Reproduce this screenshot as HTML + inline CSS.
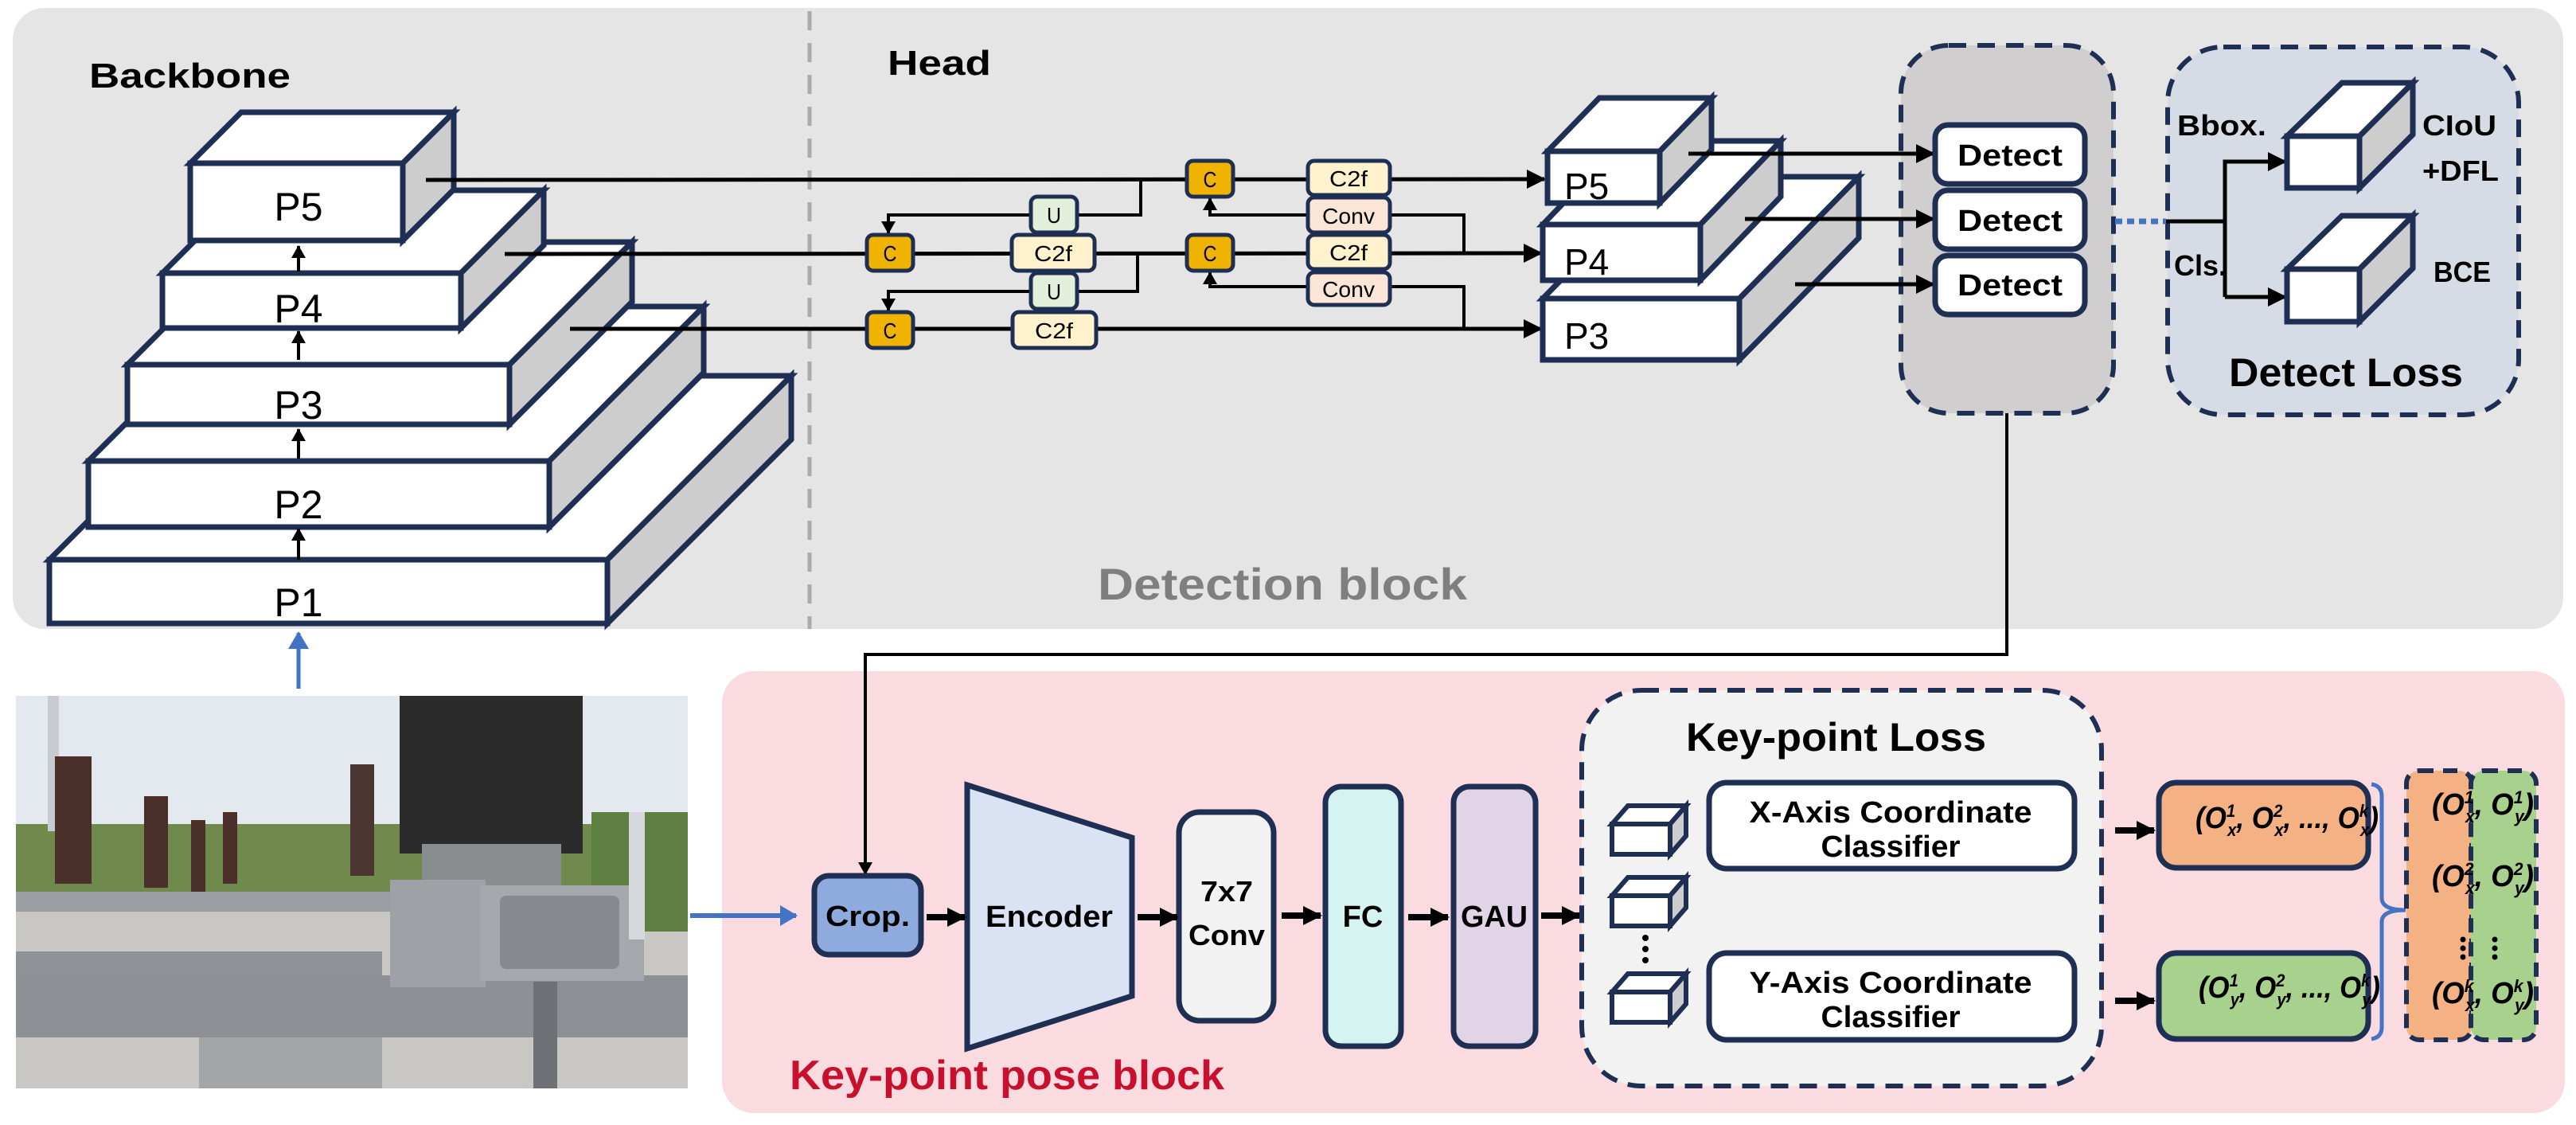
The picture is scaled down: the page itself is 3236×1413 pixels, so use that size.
<!DOCTYPE html>
<html><head><meta charset="utf-8"><style>
html,body{margin:0;padding:0;background:#fff}
svg{display:block}
text{font-family:"Liberation Sans",sans-serif}
</style></head><body>
<svg width="3236" height="1413" viewBox="0 0 3236 1413" xmlns="http://www.w3.org/2000/svg">
<defs>
<marker id="ah" markerUnits="userSpaceOnUse" markerWidth="24" markerHeight="24" refX="22" refY="12" orient="auto"><path d="M0,0 L24,12 L0,24 Z" fill="#000"/></marker>
<marker id="as" markerUnits="userSpaceOnUse" markerWidth="16" markerHeight="18" refX="15" refY="9" orient="auto"><path d="M0,0 L16,9 L0,18 Z" fill="#000"/></marker>
<marker id="ab" markerUnits="userSpaceOnUse" markerWidth="22" markerHeight="26" refX="20" refY="13" orient="auto"><path d="M0,0 L22,13 L0,26 Z" fill="#4472c4"/></marker>
</defs>

<rect x="16" y="10" width="3204" height="780" rx="40" fill="#e5e5e5"/>
<line x1="1017" y1="14" x2="1017" y2="790" stroke="#aeaaaa" stroke-width="5" stroke-dasharray="24 16"/>
<text x="112" y="110" font-size="44" font-weight="bold" textLength="253" lengthAdjust="spacingAndGlyphs">Backbone</text>
<text x="1115" y="94" font-size="44" font-weight="bold" textLength="130" lengthAdjust="spacingAndGlyphs">Head</text>
<text x="1379" y="753" font-size="56" font-weight="bold" fill="#7f7f7f" textLength="464" lengthAdjust="spacingAndGlyphs">Detection block</text>

<g stroke="#1f2f54" stroke-width="7" stroke-linejoin="miter">
<polygon points="62,703 293,472 994,472 763,703" fill="#fff"/>
<polygon points="763,703 994,472 994,552 763,783" fill="#cdcdcd"/>
<rect x="62" y="703" width="701" height="80" fill="#fff"/>
<polygon points="111,579 305,385 884,385 690,579" fill="#fff"/>
<polygon points="690,579 884,385 884,468 690,662" fill="#cdcdcd"/>
<rect x="111" y="579" width="579" height="83" fill="#fff"/>
<polygon points="160,458 314,304 794,304 640,458" fill="#fff"/>
<polygon points="640,458 794,304 794,379 640,533" fill="#cdcdcd"/>
<rect x="160" y="458" width="480" height="75" fill="#fff"/>
<polygon points="204,343 308,239 683,239 579,343" fill="#fff"/>
<polygon points="579,343 683,239 683,308 579,412" fill="#cdcdcd"/>
<rect x="204" y="343" width="375" height="69" fill="#fff"/>
<polygon points="239,205 303,141 570,141 506,205" fill="#fff"/>
<polygon points="506,205 570,141 570,238 506,302" fill="#cdcdcd"/>
<rect x="239" y="205" width="267" height="97" fill="#fff"/>
</g>
<g font-size="50" text-anchor="middle">
<text x="375" y="277">P5</text><text x="375" y="405">P4</text><text x="375" y="526">P3</text><text x="375" y="651">P2</text><text x="375" y="774">P1</text>
</g>
<g stroke="#000" stroke-width="4">
<line x1="375" y1="703" x2="375" y2="664" marker-end="url(#as)"/>
<line x1="375" y1="576" x2="375" y2="539" marker-end="url(#as)"/>
<line x1="375" y1="452" x2="375" y2="416" marker-end="url(#as)"/>
<line x1="375" y1="341" x2="375" y2="309" marker-end="url(#as)"/>
</g>
<line x1="375" y1="865" x2="375" y2="795" stroke="#4472c4" stroke-width="5" marker-end="url(#ab)"/>

<g stroke="#000" stroke-width="5" fill="none">
<line x1="535" y1="226" x2="1940" y2="225" marker-end="url(#ah)"/>
<line x1="634" y1="319" x2="1936" y2="318" marker-end="url(#ah)"/>
<line x1="716" y1="413" x2="1936" y2="413" marker-end="url(#ah)"/>
</g>
<g stroke="#000" stroke-width="4" fill="none">
<polyline points="1433,225 1433,270 1116,270 1116,293" marker-end="url(#as)"/>
<polyline points="1429,318 1429,366 1116,366 1116,390" marker-end="url(#as)"/>
<polyline points="1839,318 1839,270 1520,270 1520,249" marker-end="url(#as)"/>
<polyline points="1839,413 1839,360 1520,360 1520,342" marker-end="url(#as)"/>
</g>
<g stroke="#1f2f54" stroke-width="5">
<rect x="1491" y="202" width="58" height="45" rx="8" fill="#f0b400"/>
<rect x="1491" y="295" width="58" height="45" rx="8" fill="#f0b400"/>
<rect x="1089" y="295" width="58" height="45" rx="8" fill="#f0b400"/>
<rect x="1089" y="392" width="58" height="45" rx="8" fill="#f0b400"/>
<rect x="1643" y="202" width="103" height="43" rx="8" fill="#fff2cc"/>
<rect x="1643" y="248" width="103" height="44" rx="8" fill="#fbe5d6"/>
<rect x="1643" y="295" width="103" height="43" rx="8" fill="#fff2cc"/>
<rect x="1643" y="342" width="103" height="41" rx="8" fill="#fbe5d6"/>
<rect x="1271" y="295" width="104" height="45" rx="8" fill="#fff2cc"/>
<rect x="1272" y="392" width="105" height="45" rx="8" fill="#fff2cc"/>
<rect x="1295" y="247" width="58" height="45" rx="8" fill="#e2f0d9"/>
<rect x="1295" y="343" width="58" height="45" rx="8" fill="#e2f0d9"/>
</g>
<g font-size="28" text-anchor="middle">
<text x="1520" y="235" textLength="17" lengthAdjust="spacingAndGlyphs">C</text><text x="1520" y="328" textLength="17" lengthAdjust="spacingAndGlyphs">C</text><text x="1118" y="328" textLength="17" lengthAdjust="spacingAndGlyphs">C</text><text x="1118" y="425" textLength="17" lengthAdjust="spacingAndGlyphs">C</text>
<text x="1694" y="234" textLength="48" lengthAdjust="spacingAndGlyphs">C2f</text><text x="1694" y="281" textLength="66" lengthAdjust="spacingAndGlyphs">Conv</text><text x="1694" y="327" textLength="48" lengthAdjust="spacingAndGlyphs">C2f</text><text x="1694" y="373" textLength="66" lengthAdjust="spacingAndGlyphs">Conv</text>
<text x="1323" y="328" textLength="48" lengthAdjust="spacingAndGlyphs">C2f</text><text x="1324" y="425" textLength="48" lengthAdjust="spacingAndGlyphs">C2f</text>
<text x="1324" y="280" textLength="18" lengthAdjust="spacingAndGlyphs">U</text><text x="1324" y="376" textLength="18" lengthAdjust="spacingAndGlyphs">U</text>
</g>

<g stroke="#1f2f54" stroke-width="7">
<polygon points="1938,375 2088,222 2335,222 2185,375" fill="#fff"/>
<polygon points="2185,375 2335,222 2335,299 2185,452" fill="#cdcdcd"/>
<rect x="1938" y="375" width="247" height="77" fill="#fff"/>
<polygon points="1938,282 2039,177 2237,177 2136,282" fill="#fff"/>
<polygon points="2136,282 2237,177 2237,247 2136,352" fill="#cdcdcd"/>
<rect x="1938" y="282" width="198" height="70" fill="#fff"/>
<polygon points="1944,190 2009,123 2150,123 2085,190" fill="#fff"/>
<polygon points="2085,190 2150,123 2150,188 2085,255" fill="#cdcdcd"/>
<rect x="1944" y="190" width="141" height="65" fill="#fff"/>
</g>
<g font-size="46"><text x="1965" y="250">P5</text><text x="1965" y="345">P4</text><text x="1965" y="438">P3</text></g>

<rect x="2388" y="57" width="267" height="462" rx="60" fill="#d0cece" stroke="#1f2f54" stroke-width="6" stroke-dasharray="22 14"/>
<g stroke="#000" stroke-width="5">
<line x1="2121" y1="193" x2="2429" y2="193" marker-end="url(#ah)"/>
<line x1="2192" y1="275" x2="2429" y2="275" marker-end="url(#ah)"/>
<line x1="2255" y1="357" x2="2429" y2="357" marker-end="url(#ah)"/>
</g>
<g stroke="#1f2f54" stroke-width="7" fill="#fff">
<rect x="2431" y="157" width="188" height="74" rx="16"/>
<rect x="2431" y="239" width="188" height="74" rx="16"/>
<rect x="2431" y="321" width="188" height="74" rx="16"/>
</g>
<g font-size="38" font-weight="bold" text-anchor="middle">
<text x="2525" y="208" textLength="132" lengthAdjust="spacingAndGlyphs">Detect</text>
<text x="2525" y="290" textLength="132" lengthAdjust="spacingAndGlyphs">Detect</text>
<text x="2525" y="371" textLength="132" lengthAdjust="spacingAndGlyphs">Detect</text>
</g>
<rect x="2723" y="59" width="441" height="462" rx="70" fill="#d6dce5" stroke="#1f2f54" stroke-width="6" stroke-dasharray="22 14"/>
<line x1="2657" y1="278" x2="2721" y2="278" stroke="#4472c4" stroke-width="7" stroke-dasharray="9 6"/>
<g stroke="#000" stroke-width="5" fill="none">
<line x1="2721" y1="278" x2="2795" y2="278"/>
<polyline points="2795,373 2795,203 2871,203" marker-end="url(#ah)"/>
<line x1="2795" y1="373" x2="2871" y2="373" marker-end="url(#ah)"/>
</g>
<g stroke="#1f2f54" stroke-width="7">
<polygon points="2873,171 2942,104 3031,104 2964,171" fill="#fff"/>
<polygon points="2964,171 3031,104 3031,169 2964,236" fill="#cdcdcd"/>
<rect x="2873" y="171" width="91" height="65" fill="#fff"/>
<polygon points="2873,338 2942,271 3031,271 2964,338" fill="#fff"/>
<polygon points="2964,338 3031,271 3031,337 2964,404" fill="#cdcdcd"/>
<rect x="2873" y="338" width="91" height="66" fill="#fff"/>
</g>
<g font-size="36" font-weight="bold">
<text x="2735" y="170" textLength="112" lengthAdjust="spacingAndGlyphs">Bbox.</text>
<text x="3043" y="170" textLength="93" lengthAdjust="spacingAndGlyphs">CIoU</text>
<text x="3043" y="227" textLength="96" lengthAdjust="spacingAndGlyphs">+DFL</text>
<text x="2731" y="346" textLength="66" lengthAdjust="spacingAndGlyphs">Cls.</text>
<text x="3057" y="354" textLength="72" lengthAdjust="spacingAndGlyphs">BCE</text>
</g>
<text x="2800" y="485" font-size="50" font-weight="bold" textLength="294" lengthAdjust="spacingAndGlyphs">Detect Loss</text>

<rect x="907" y="843" width="2315" height="555" rx="40" fill="#f9dbe0"/>
<polyline points="2521,519 2521,822 1087,822 1087,1098" stroke="#000" stroke-width="4" fill="none" marker-end="url(#as)"/>

<!-- photo -->
<g>
<rect x="20" y="874" width="844" height="493" fill="#c9c7c3"/>
<rect x="20" y="874" width="844" height="170" fill="#e4e9ef"/>
<rect x="20" y="1035" width="844" height="95" fill="#6f8a4c"/>
<rect x="743" y="1020" width="121" height="150" fill="#5d7f42"/>
<rect x="60" y="874" width="14" height="170" fill="#c8cbd0"/>
<rect x="69" y="950" width="46" height="160" fill="#4a2f2a"/>
<rect x="181" y="1000" width="30" height="115" fill="#4a2f2a"/>
<rect x="240" y="1030" width="18" height="90" fill="#4a2f2a"/>
<rect x="280" y="1020" width="18" height="90" fill="#4a2f2a"/>
<rect x="440" y="960" width="30" height="140" fill="#4a3530"/>
<rect x="502" y="874" width="230" height="198" fill="#2b2b2b"/>
<rect x="530" y="1060" width="175" height="60" fill="#8a8d90"/>
<rect x="20" y="1120" width="480" height="25" fill="#9a9da1"/>
<rect x="20" y="1195" width="460" height="55" fill="#8f9296"/>
<rect x="20" y="1225" width="844" height="78" fill="#8d9094"/>
<rect x="490" y="1105" width="120" height="135" fill="#9ea2a6"/>
<rect x="603" y="1112" width="206" height="120" fill="#a5a9ad"/>
<rect x="628" y="1125" width="150" height="92" rx="8" fill="#86898d"/>
<rect x="250" y="1303" width="230" height="64" fill="#a3a6a9"/>
<rect x="670" y="1233" width="30" height="134" fill="#6e7175"/>
<rect x="790" y="1020" width="20" height="160" fill="#d6d9dc"/>
</g>
<line x1="867" y1="1150" x2="1000" y2="1150" stroke="#4472c4" stroke-width="6" marker-end="url(#ab)"/>

<rect x="1023" y="1100" width="134" height="99" rx="18" fill="#8faadc" stroke="#1f2f54" stroke-width="7"/>
<text x="1090" y="1163" font-size="36" font-weight="bold" text-anchor="middle" textLength="106" lengthAdjust="spacingAndGlyphs">Crop.</text>
<polygon points="1215,986 1422,1052 1422,1251 1215,1317" fill="#dae3f3" stroke="#1f2f54" stroke-width="7"/>
<text x="1318" y="1164" font-size="38" font-weight="bold" text-anchor="middle" textLength="160" lengthAdjust="spacingAndGlyphs">Encoder</text>
<rect x="1481" y="1020" width="119" height="262" rx="26" fill="#f2f2f2" stroke="#1f2f54" stroke-width="7"/>
<text x="1541" y="1132" font-size="36" font-weight="bold" text-anchor="middle" textLength="66" lengthAdjust="spacingAndGlyphs">7x7</text>
<text x="1541" y="1187" font-size="36" font-weight="bold" text-anchor="middle" textLength="96" lengthAdjust="spacingAndGlyphs">Conv</text>
<rect x="1665" y="988" width="95" height="326" rx="20" fill="#d5f3f0" stroke="#1f2f54" stroke-width="7"/>
<text x="1712" y="1164" font-size="38" font-weight="bold" text-anchor="middle">FC</text>
<rect x="1826" y="988" width="103" height="326" rx="20" fill="#e0d4e6" stroke="#1f2f54" stroke-width="7"/>
<text x="1877" y="1164" font-size="38" font-weight="bold" text-anchor="middle" textLength="84" lengthAdjust="spacingAndGlyphs">GAU</text>
<g stroke="#000" stroke-width="8">
<line x1="1164" y1="1152" x2="1212" y2="1152" marker-end="url(#ah)"/>
<line x1="1429" y1="1152" x2="1479" y2="1152" marker-end="url(#ah)"/>
<line x1="1610" y1="1150" x2="1659" y2="1150" marker-end="url(#ah)"/>
<line x1="1769" y1="1152" x2="1819" y2="1152" marker-end="url(#ah)"/>
<line x1="1936" y1="1150" x2="1984" y2="1150" marker-end="url(#ah)"/>
</g>
<text x="992" y="1368" font-size="52" font-weight="bold" fill="#c8102e" textLength="546" lengthAdjust="spacingAndGlyphs">Key-point pose block</text>

<rect x="1987" y="867" width="653" height="497" rx="75" fill="#f2f2f2" stroke="#1f2f54" stroke-width="6" stroke-dasharray="22 14"/>
<text x="2118" y="943" font-size="50" font-weight="bold" textLength="377" lengthAdjust="spacingAndGlyphs">Key-point Loss</text>
<g stroke="#1f2f54" stroke-width="6">
<g id="cb">
<polygon points="2025,1035 2045,1012 2118,1012 2098,1035" fill="#fff"/>
<polygon points="2098,1035 2118,1012 2118,1050 2098,1073" fill="#cdcdcd"/>
<rect x="2025" y="1035" width="73" height="38" fill="#fff"/>
</g>
<use href="#cb" y="90"/>
<use href="#cb" y="211"/>
</g>
<g fill="#000"><circle cx="2067" cy="1178" r="4"/><circle cx="2067" cy="1192" r="4"/><circle cx="2067" cy="1206" r="4"/></g>
<rect x="2147" y="983" width="459" height="108" rx="22" fill="#fff" stroke="#1f2f54" stroke-width="7"/>
<rect x="2147" y="1197" width="459" height="109" rx="22" fill="#fff" stroke="#1f2f54" stroke-width="7"/>
<g font-size="38" font-weight="bold" text-anchor="middle">
<text x="2375" y="1033" textLength="355" lengthAdjust="spacingAndGlyphs">X-Axis Coordinate</text>
<text x="2375" y="1076" textLength="175" lengthAdjust="spacingAndGlyphs">Classifier</text>
<text x="2375" y="1247" textLength="355" lengthAdjust="spacingAndGlyphs">Y-Axis Coordinate</text>
<text x="2375" y="1290" textLength="175" lengthAdjust="spacingAndGlyphs">Classifier</text>
</g>
<g stroke="#000" stroke-width="8">
<line x1="2657" y1="1043" x2="2706" y2="1043" marker-end="url(#ah)"/>
<line x1="2657" y1="1257" x2="2706" y2="1257" marker-end="url(#ah)"/>
</g>
<rect x="2712" y="983" width="263" height="107" rx="22" fill="#f4b183" stroke="#1f2f54" stroke-width="7"/>
<rect x="2712" y="1197" width="263" height="108" rx="22" fill="#a9d18e" stroke="#1f2f54" stroke-width="7"/>
<path d="M2979,985 Q2992,987 2992,1000 L2992,1128 Q2992,1143 3022,1143 Q2992,1143 2992,1158 L2992,1290 Q2992,1303 2979,1305" stroke="#4472c4" stroke-width="5" fill="none"/>
<rect x="3023" y="968" width="82" height="338" rx="16" fill="#f4b183" stroke="#1f2f54" stroke-width="6" stroke-dasharray="18 12"/>
<rect x="3104" y="968" width="82" height="338" rx="16" fill="#a9d18e" stroke="#1f2f54" stroke-width="6" stroke-dasharray="18 12"/>
<g font-family="Liberation Serif,serif" font-style="italic" font-weight="bold" font-size="38">
<text x="2758" y="1040" textLength="230" lengthAdjust="spacingAndGlyphs">(O<tspan font-size="22" dy="-14">1</tspan><tspan font-size="22" dx="-11" dy="24">x</tspan><tspan dy="-10">, O</tspan><tspan font-size="22" dy="-14">2</tspan><tspan font-size="22" dx="-11" dy="24">x</tspan><tspan dy="-10">, ..., O</tspan><tspan font-size="22" dy="-14">k</tspan><tspan font-size="22" dx="-11" dy="24">x</tspan><tspan dy="-10">)</tspan></text>
<text x="2762" y="1253" textLength="228" lengthAdjust="spacingAndGlyphs">(O<tspan font-size="22" dy="-14">1</tspan><tspan font-size="22" dx="-11" dy="24">y</tspan><tspan dy="-10">, O</tspan><tspan font-size="22" dy="-14">2</tspan><tspan font-size="22" dx="-11" dy="24">y</tspan><tspan dy="-10">, ..., O</tspan><tspan font-size="22" dy="-14">k</tspan><tspan font-size="22" dx="-11" dy="24">y</tspan><tspan dy="-10">)</tspan></text>
<text x="3055" y="1023" textLength="128" lengthAdjust="spacingAndGlyphs">(O<tspan font-size="22" dy="-14">1</tspan><tspan font-size="22" dx="-11" dy="24">x</tspan><tspan dy="-10">, O</tspan><tspan font-size="22" dy="-14">1</tspan><tspan font-size="22" dx="-11" dy="24">y</tspan><tspan dy="-10">)</tspan></text>
<text x="3055" y="1113" textLength="128" lengthAdjust="spacingAndGlyphs">(O<tspan font-size="22" dy="-14">2</tspan><tspan font-size="22" dx="-11" dy="24">x</tspan><tspan dy="-10">, O</tspan><tspan font-size="22" dy="-14">2</tspan><tspan font-size="22" dx="-11" dy="24">y</tspan><tspan dy="-10">)</tspan></text>
<text x="3055" y="1260" textLength="128" lengthAdjust="spacingAndGlyphs">(O<tspan font-size="22" dy="-14">k</tspan><tspan font-size="22" dx="-11" dy="24">x</tspan><tspan dy="-10">, O</tspan><tspan font-size="22" dy="-14">k</tspan><tspan font-size="22" dx="-11" dy="24">y</tspan><tspan dy="-10">)</tspan></text>
</g>
<g fill="#000"><circle cx="3094" cy="1180" r="3.5"/><circle cx="3094" cy="1191" r="3.5"/><circle cx="3094" cy="1202" r="3.5"/>
<circle cx="3134" cy="1180" r="3.5"/><circle cx="3134" cy="1191" r="3.5"/><circle cx="3134" cy="1202" r="3.5"/></g>
</svg>
</body></html>
